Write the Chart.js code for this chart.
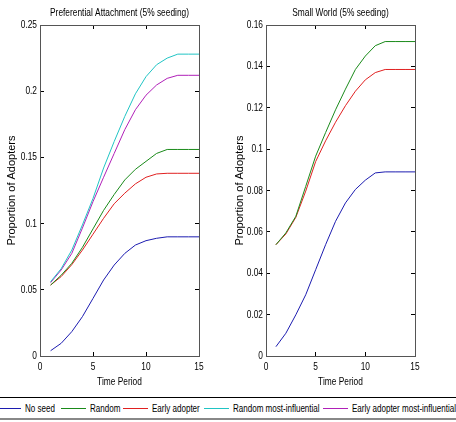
<!DOCTYPE html>
<html>
<head>
<meta charset="utf-8">
<script src="https://cdn.jsdelivr.net/npm/chart.js@4"></script>
<style>
  body { margin: 0; background: #fff; width: 456px; height: 422px; overflow: hidden; position: relative; }
  .wrap { position: absolute; top: 0; width: 228px; height: 395px; }
  #legend {
    position: absolute; left: 0; top: 397px; width: 456px; height: 20px;
    border-top: 1px solid #000; border-bottom: 2px solid #888; overflow: hidden;
    font-family: "Liberation Sans", Arial, sans-serif; font-size: 11px; color: #000;
  }
  #legend .ln { position: absolute; top: 10px; width: 25px; height: 0; border-top: 1px solid; }
  #legend .tx { position: absolute; top: 4px; white-space: nowrap; transform: scaleX(0.73); transform-origin: left center; }
</style>
</head>
<body>
<div class="wrap" style="left:0"><canvas id="pa" width="228" height="395"></canvas></div>
<div class="wrap" style="left:228px"><canvas id="sw" width="228" height="395"></canvas></div>
<div id="legend"></div>
<script>
// time axis
const times = [1, 2, 3, 4, 5, 6, 7, 8, 9, 10, 11, 12, 13, 14, 15];

// Preferential Attachment
const noSeedPA = [0.004, 0.0096, 0.0184, 0.0297, 0.0435, 0.0574, 0.0687, 0.0775, 0.0838, 0.0871, 0.0889, 0.090, 0.090, 0.090, 0.090];
const randomPA = [0.0536, 0.061, 0.070, 0.082, 0.096, 0.110, 0.122, 0.133, 0.141, 0.147, 0.153, 0.156, 0.156, 0.156, 0.156];
const earlyPA = [0.0536, 0.060, 0.069, 0.080, 0.092, 0.104, 0.115, 0.123, 0.130, 0.135, 0.1375, 0.138, 0.138, 0.138, 0.138];
const randInflPA = [0.0561, 0.066, 0.080, 0.099, 0.119, 0.142, 0.162, 0.181, 0.198, 0.211, 0.220, 0.225, 0.228, 0.228, 0.228];
const earlyInflPA = [0.0555, 0.065, 0.0775, 0.0966, 0.1166, 0.135, 0.153, 0.171, 0.186, 0.197, 0.2047, 0.2097, 0.212, 0.212, 0.212];

// Small World
const noSeedSW = [0.0045, 0.011, 0.0199, 0.0296, 0.0417, 0.0538, 0.0651, 0.074, 0.0805, 0.085, 0.0885, 0.089, 0.089, 0.089, 0.089];
const randomSW = [0.0538, 0.0595, 0.0675, 0.082, 0.0966, 0.108, 0.119, 0.129, 0.1385, 0.145, 0.150, 0.152, 0.152, 0.152, 0.152];
const earlySW = [0.0538, 0.059, 0.067, 0.0797, 0.094, 0.104, 0.113, 0.121, 0.128, 0.1335, 0.137, 0.1385, 0.1385, 0.1385, 0.1385];

const seriesNames = ["No seed", "Random", "Early adopter", "Random most-influential", "Early adopter most-influential"];
const colors = ["#1c1cb0", "#1a8a1a", "#e02020", "#20c4c4", "#b020b8"];

// the original uses a narrow font; squeeze canvas text that asks for it
const narrow = "'Liberation Sans Narrow', 'Liberation Sans', Arial, sans-serif";
const squeeze = 0.76;
const origFill = CanvasRenderingContext2D.prototype.fillText;
CanvasRenderingContext2D.prototype.fillText = function (t, x, y, mw) {
  if (this.font.indexOf("Narrow") >= 0) {
    const w = this.measureText(t).width * squeeze;
    mw = mw === undefined ? w : Math.min(mw, w);
  }
  return origFill.call(this, t, x, y, mw);
};

function pts(vals) {
  return vals.map((v, i) => ({ x: times[i], y: v }));
}

// title centred over the plot box, not the canvas
const boxTitle = {
  id: "boxTitle",
  afterDraw(chart, args, opts) {
    const { ctx, chartArea } = chart;
    ctx.save();
    ctx.font = "11px " + narrow;
    ctx.fillStyle = "#000";
    ctx.textAlign = "center";
    ctx.textBaseline = "middle";
    ctx.fillText(opts.text, (chartArea.left + chartArea.right) / 2, 13);
    ctx.restore();
  },
};

function makeChart(id, title, sets, yMax, yStep, yWidth, rightPad) {
  const tick = { display: true, drawOnChartArea: false, tickLength: -4, color: "#000" };
  const border = { display: true, color: "#555", width: 1 };
  new Chart(id, {
    type: "line",
    data: {
      datasets: sets.map((s) => ({
        label: seriesNames[s.k],
        data: pts(s.v),
        borderColor: colors[s.k],
        borderWidth: 1,
        pointRadius: 0,
        tension: 0,
        fill: false,
      })),
    },
    options: {
      responsive: false,
      animation: false,
      layout: { padding: { left: 0, right: rightPad, top: 25, bottom: 0 } },
      plugins: {
        legend: { display: false },
        tooltip: { enabled: false },
        title: { display: false },
        boxTitle: { text: title },
      },
      scales: {
        x: {
          type: "linear", min: 0, max: 15,
          ticks: { stepSize: 5, color: "#000", padding: 8, font: { family: narrow, size: 11 } },
          grid: tick, border: border,
          title: { display: true, text: "Time Period", color: "#000", padding: { top: 0, bottom: 6 }, font: { family: narrow, size: 11 } },
          afterFit: (s) => { s.height = 39; },
        },
        x2: {
          type: "linear", position: "top", min: 0, max: 15,
          ticks: { stepSize: 5, display: false },
          grid: tick, border: border,
          afterFit: (s) => { s.height = 0; },
        },
        y: {
          min: 0, max: yMax,
          ticks: {
            stepSize: yStep, color: "#000", padding: 7, font: { family: narrow, size: 11 },
            callback: (v) => String(Number(v.toFixed(3))),
          },
          grid: tick, border: border,
          title: { display: true, text: "Proportion of Adopters", color: "#000", padding: { top: 5, bottom: 0 }, font: { family: "'Liberation Sans', Arial, sans-serif", size: 11 } },
          afterFit: (s) => { s.width = yWidth; },
        },
        y2: {
          position: "right", min: 0, max: yMax,
          ticks: { stepSize: yStep, display: false },
          grid: tick, border: border,
          afterFit: (s) => { s.width = 0; },
        },
      },
    },
    plugins: [boxTitle],
  });
}

makeChart("pa", "Preferential Attachment (5% seeding)", [
  { k: 0, v: noSeedPA }, { k: 1, v: randomPA }, { k: 2, v: earlyPA }, { k: 3, v: randInflPA }, { k: 4, v: earlyInflPA },
], 0.25, 0.05, 40, 29);

makeChart("sw", "Small World (5% seeding)", [
  { k: 0, v: noSeedSW }, { k: 1, v: randomSW }, { k: 2, v: earlySW },
], 0.16, 0.02, 38, 41);

// legend strip under both panels
const legendX = [-4, 61, 123, 204, 323];
const legend = document.getElementById("legend");
legend.innerHTML = seriesNames.map((n, i) =>
  `<span class="ln" style="left:${legendX[i]}px;border-color:${colors[i]}"></span>` +
  `<span class="tx" style="left:${legendX[i] + 29}px">${n}</span>`
).join("");
</script>
</body>
</html>
